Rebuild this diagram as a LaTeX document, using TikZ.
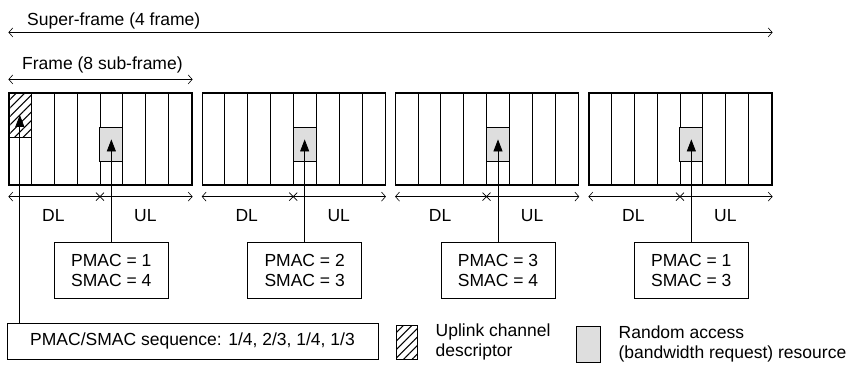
\documentclass[tikz,border=0pt]{standalone}
\usepackage{fontspec}
\setmainfont{Liberation Sans}
\usetikzlibrary{positioning, calc, arrows.meta, patterns.meta}

\begin{document}
\begin{tikzpicture}[
  x=1pt, y=1pt,
  font=\fontsize{17.5}{20}\selectfont,
  frameBox/.style   ={rectangle, draw=black, line width=1.2pt, minimum width=183pt, minimum height=92pt, inner sep=0pt},
  subLine/.style    ={line width=0.7pt},
  raBlock/.style    ={rectangle, draw=black, line width=0.9pt, fill=black!13, minimum width=22.875pt, inner sep=0pt},
  ucdBlock/.style   ={rectangle, draw=black, line width=0.9pt, pattern={Lines[angle=45, distance=6pt, line width=1pt]}, minimum width=22.875pt, inner sep=0pt},
  macNode/.style    ={rectangle, draw=black, line width=0.9pt, minimum width=114pt, minimum height=56pt, align=center},
  seqNode/.style    ={rectangle, draw=black, line width=0.9pt, minimum width=371pt, minimum height=36pt},
  legendText/.style ={align=left, inner sep=0pt},
  upArrow/.style    ={-{Triangle[length=12pt, width=9pt]}, line width=0.8pt},
  spanArrow/.style  ={{Straight Barb[length=4pt, width=9pt]}-{Straight Barb[length=4pt, width=9pt]}, line width=0.6pt}
]
\useasboundingbox (0,0) rectangle (850,-364);

% ================== FRAMES ==================
\foreach \f/\p/\s in {0/1/4, 1/2/3, 2/3/4, 3/1/3} {
  \node[frameBox] (frame\f) at (\f*193.33+100.5, -139) {};
  \foreach \k in {1,...,7}
    \draw[subLine] ($(frame\f.north west)+(\k*22.875,0)$) -- ($(frame\f.south west)+(\k*22.875,0)$);

  % random access slot in sub-frame 5
  \node[raBlock, minimum height=34pt] (ra\f) at ($(frame\f.north west)+(102.94,-52)$) {};

  % PMAC / SMAC box under the slot
  \node[macNode] (mac\f) at ($(frame\f.north west)+(102.94,-178)$) {PMAC = \p\\SMAC = \s};
  \draw[upArrow] (mac\f.north) -- ($(ra\f.center)+(0,5)$);

  % DL / UL split
  \coordinate (dl\f) at ($(frame\f.south west)+(0,-11)$);
  \coordinate (ul\f) at ($(frame\f.south east)+(0,-11)$);
  \draw[spanArrow] (dl\f) -- (ul\f);
  \draw[subLine] ($(dl\f)+(87.5,4)$) -- ++(8,-8) ($(dl\f)+(87.5,-4)$) -- ++(8,8);
  \node (dlLab\f) at ($(dl\f)+(45,-19)$) {DL};
  \node (ulLab\f) at ($(dl\f)+(137,-19)$) {UL};
}

% ================== UPLINK CHANNEL DESCRIPTOR ==================
\node[ucdBlock, minimum height=45pt] (ucd) at ($(frame0.north west)+(11.44,-22.5)$) {};

% ================== SEQUENCE ==================
\node[seqNode] (seq) at (192.5,-341) {PMAC/SMAC sequence: 1/4, 2/3, 1/4, 1/3};
\draw[upArrow] (seq.north -| ucd.center) -- (ucd.center);

% ================== SPANS ==================
\coordinate (sfL) at ($(frame0.north west)+(0,60)$);
\coordinate (sfR) at ($(frame3.north east)+(0,60)$);
\draw[spanArrow] (sfL) -- (sfR);
\node[anchor=base west, inner sep=0pt] (sfLab) at (27,-25) {Super-frame (4 frame)};

\coordinate (fL) at ($(frame0.north west)+(0,13)$);
\coordinate (fR) at ($(frame0.north east)+(0,13)$);
\draw[spanArrow] (fL) -- (fR);
\node[anchor=base west, inner sep=0pt] (fLab) at (22,-69) {Frame (8 sub-frame)};

% ================== LEGEND ==================
\node[ucdBlock, minimum width=21pt, minimum height=34pt] (legUcd) at (406.5,-342) {};
\node[legendText, right=18pt of legUcd] (legUcdTxt) {Uplink channel\\descriptor};

\node[raBlock, minimum width=24pt, minimum height=36pt] (legRa) at (588,-344) {};
\node[legendText, right=18pt of legRa] (legRaTxt) {Random access\\(bandwidth request) resource};

\end{tikzpicture}
\end{document}
